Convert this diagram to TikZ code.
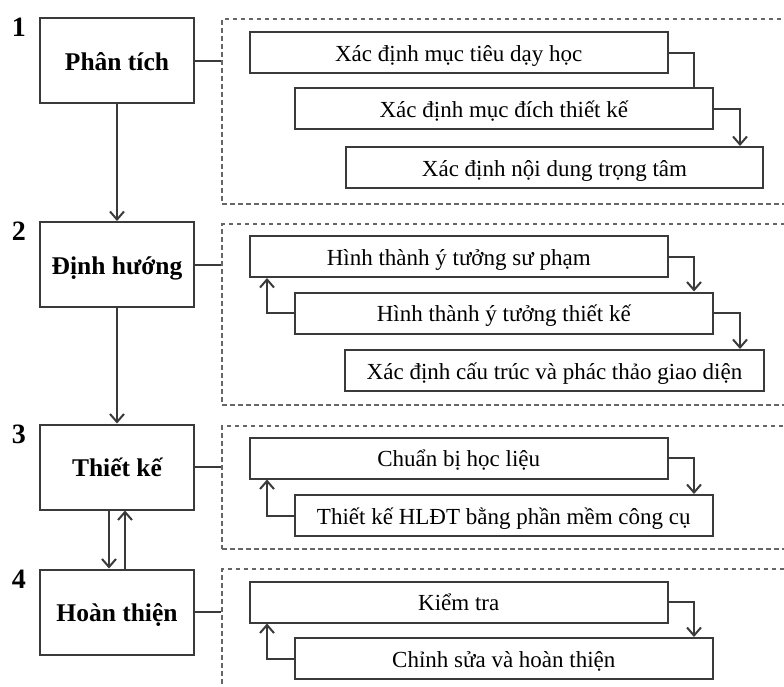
\documentclass[tikz,border=0pt]{standalone}
\usepackage{fontspec}
\setmainfont{Liberation Serif}
\usetikzlibrary{arrows.meta}
\definecolor{ln}{HTML}{3A3A3A}
\definecolor{dsh}{HTML}{666666}
\begin{document}
\begin{tikzpicture}[x=1pt,y=-1pt,
  mainbox/.style={draw=ln, line width=2pt, minimum width=154pt, minimum height=85pt, inner sep=0pt,
    text height=19pt, text depth=0pt, font=\fontsize{25.5}{30}\selectfont\bfseries},
  subbox/.style={draw=ln, line width=2pt, minimum width=418pt, minimum height=41pt, inner sep=0pt,
    text height=17pt, text depth=0pt, font=\fontsize{23}{27}\selectfont},
  numlab/.style={anchor=north, inner sep=0pt, font=\fontsize{28}{32}\selectfont\bfseries},
  grp/.style={draw=dsh, line width=2pt, dash pattern=on 4.5pt off 3.5pt, anchor=north west, inner sep=0pt, minimum width=579pt},
  con/.style={draw=ln, line width=2pt},
  arr/.style={con, -{Straight Barb[length=8pt,width=14pt]}}]
\useasboundingbox (0,0) rectangle (784,686);
\clip (0,0) rectangle (784,686);

% coordinates for vertical connector runs
\coordinate (dxa) at (694,0);
\coordinate (dxb) at (740,0);
\coordinate (uxa) at (267,0);

% group frames
\node[grp, minimum height=185pt] (g1) at (221,18) {};
\node[grp, minimum height=181pt] (g2) at (221,223) {};
\node[grp, minimum height=123pt] (g3) at (221,425) {};
\node[grp, minimum height=140pt] (g4) at (221,568) {};

% main steps
\node[mainbox] (L1) at (117,60.5) {Phân tích};
\node[mainbox] (L2) at (117,264.5) {Định hướng};
\node[mainbox] (L3) at (117,467) {Thiết kế};
\node[mainbox] (L4) at (117,612) {Hoàn thiện};

\node[numlab] (n1) at (19,18) {1};
\node[numlab] (n2) at (19,222) {2};
\node[numlab] (n3) at (19,425) {3};
\node[numlab] (n4) at (19,570) {4};

% sub steps
\node[subbox] (A) at (458.7,52.5) {Xác định mục tiêu dạy học};
\node[subbox] (B) at (503.8,108.5) {Xác định mục đích thiết kế};
\node[subbox, minimum width=417pt] (C) at (554.5,167.5) {Xác định nội dung trọng tâm};

\node[subbox] (D) at (458.7,256.5) {Hình thành ý tưởng sư phạm};
\node[subbox] (E) at (503.8,313) {Hình thành ý tưởng thiết kế};
\node[subbox, minimum width=419pt] (F) at (554.5,370.5) {Xác định cấu trúc và phác thảo giao diện};

\node[subbox] (G) at (458.7,458) {Chuẩn bị học liệu};
\node[subbox] (H) at (503.8,515.5) {Thiết kế HLĐT bằng phần mềm công cụ};

\node[subbox] (I) at (458.7,602) {Kiểm tra};
\node[subbox] (J) at (503.8,658.5) {Chỉnh sửa và hoàn thiện};

% left column connectors
\draw[arr] (L1.south) -- (L2.north);
\draw[arr] (L2.south) -- (L3.north);
\draw[arr] ([xshift=-8pt]L3.south) -- ([xshift=-8pt]L4.north);
\draw[arr] ([xshift=8pt]L4.north) -- ([xshift=8pt]L3.south);

\draw[con] (L1.east) -- (L1.east -| g1.west);
\draw[con] (L2.east) -- (L2.east -| g2.west);
\draw[con] (L3.east) -- (L3.east -| g3.west);
\draw[con] (L4.east) -- (L4.east -| g4.west);

% section 1
\draw[con] (A.east) -| (B.north -| dxa);
\draw[arr] (B.east) -| (C.north -| dxb);
% section 2
\draw[arr] (D.east) -| (E.north -| dxa);
\draw[arr] (E.west) -| (D.south -| uxa);
\draw[arr] (E.east) -| (F.north -| dxb);
% section 3
\draw[arr] (G.east) -| (H.north -| dxa);
\draw[arr] (H.west) -| (G.south -| uxa);
% section 4
\draw[arr] (I.east) -| (J.north -| dxa);
\draw[arr] (J.west) -| (I.south -| uxa);
\end{tikzpicture}
\end{document}
